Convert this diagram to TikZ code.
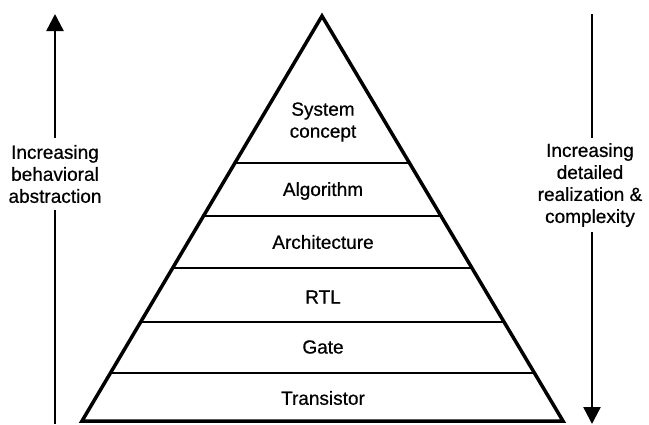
\documentclass[tikz,border=0pt]{standalone}
\usepackage{fontspec}
\setmainfont{Liberation Sans}[FakeBold=0.6,BoldFont={Liberation Sans}]
\usetikzlibrary{arrows.meta,calc}
\begin{document}
\begin{tikzpicture}[x=1pt,y=-1pt,
  lbl/.style={font=\fontsize{19}{22}\selectfont\bfseries, align=center, inner sep=0pt},
  edge/.style={line width=3.5pt, line join=miter},
  divider/.style={line width=2pt},
  arr/.style={line width=2.5pt, -{Triangle[length=17pt,width=17pt]}}]
\useasboundingbox (0,0) rectangle (649,424);
% pyramid
\coordinate (A) at (322,16);
\coordinate (BL) at (82,421);
\coordinate (BR) at (563,421);
\draw[edge] (A) -- (BL) -- (BR) -- cycle;
\foreach \t [count=\i] in {0.362,0.493,0.621,0.756,0.881}{
  \coordinate (L\i) at ($(A)!\t!(BL)$);
  \coordinate (R\i) at ($(A)!\t!(BR)$);
  \draw[divider] (L\i) -- (R\i);
}
% level labels
\node[lbl] (sys) at (323,122) {System\\concept};
\node[lbl] (alg) at (323,191) {Algorithm};
\node[lbl] (arch) at (323,242) {Architecture};
\node[lbl] (rtl) at (323,297) {RTL};
\node[lbl] (gate) at (323,347) {Gate};
\node[lbl] (trans) at (323,398) {Transistor};
% left side
\node[lbl] (left) at (55,174) {Increasing\\behavioral\\abstraction};
\coordinate (ltopA) at (55,138);
\coordinate (ltip) at (55,14);
\coordinate (lbotA) at (55,210);
\coordinate (lend) at (55,424);
\draw[arr] (ltopA) -- (ltip);
\draw[line width=2.5pt] (lbotA) -- (lend);
% right side
\node[lbl] (right) at (590,185) {Increasing\\detailed\\realization \&\\complexity};
\coordinate (rstart) at (592,14);
\coordinate (rtopA) at (592,138);
\coordinate (rbotA) at (592,232);
\coordinate (rtip) at (592,424);
\draw[line width=2.5pt] (rstart) -- (rtopA);
\draw[arr] (rbotA) -- (rtip);
\end{tikzpicture}
\end{document}
